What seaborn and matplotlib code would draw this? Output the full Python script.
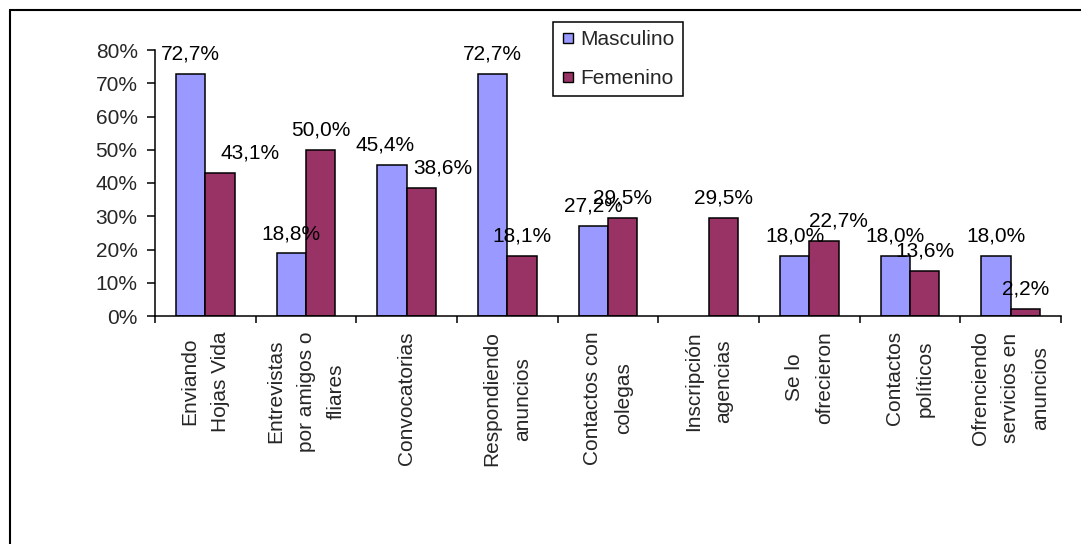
import numpy as np
import pandas as pd
import matplotlib
matplotlib.use("Agg")
import matplotlib.pyplot as plt
import seaborn as sns
from matplotlib.lines import Line2D

# ------------------------------------------------------------
# Data
# ------------------------------------------------------------
categories = [
    "Enviando\nHojas Vida",
    "Entrevistas\npor amigos o\nfliares",
    "Convocatorias",
    "Respondiendo\nanuncios",
    "Contactos con\ncolegas",
    "Inscripción\nagencias",
    "Se lo\nofrecieron",
    "Contactos\npolíticos",
    "Ofrenciendo\nservicios en\nanuncios",
]
masculino = [72.7, 18.8, 45.4, 72.7, 27.2, np.nan, 18.0, 18.0, 18.0]
femenino = [43.1, 50.0, 38.6, 18.1, 29.5, 29.5, 22.7, 13.6, 2.2]
series = ["Masculino", "Femenino"]
colors = ["#9999FF", "#993366"]
y_ticks = [0, 10, 20, 30, 40, 50, 60, 70, 80]

# label nudges (points) where the original labels sit off-centre
label_dx = {("Femenino", 0): 21.5, ("Femenino", 2): 15.5,
            ("Masculino", 2): -5, ("Femenino", 6): 10.5}

df = pd.DataFrame({
    "cat": categories * 2,
    "serie": ["Masculino"] * len(categories) + ["Femenino"] * len(categories),
    "valor": masculino + femenino,
})

# ------------------------------------------------------------
# Plot
# ------------------------------------------------------------
sns.set_theme(style="white")
plt.rcParams["font.family"] = ["Liberation Sans", "DejaVu Sans"]
fs = 15

fig = plt.figure(figsize=(10.81, 5.44), dpi=100)
ax = fig.add_axes([155 / 1081, 1 - 316 / 544, (1061 - 155) / 1081, (316 - 50) / 544])

sns.barplot(data=df.dropna(), x="cat", y="valor", hue="serie", order=categories,
            hue_order=series, palette=colors, width=0.58, saturation=1,
            edgecolor="black", linewidth=1.1, legend=False, ax=ax)

# value labels
for i, (m, f) in enumerate(zip(masculino, femenino)):
    for j, (name, v) in enumerate(zip(series, [m, f])):
        if np.isnan(v):
            continue
        x = i + (j - 0.5) * 0.29
        dx = label_dx.get((name, i), 0)
        ax.annotate(f"{v:.1f}%".replace(".", ","), (x, v), xytext=(dx, 7.5),
                    textcoords="offset points", ha="center", va="bottom",
                    fontsize=fs, color="black")

ax.set_xlim(-0.5, len(categories) - 0.5)
ax.set_ylim(0, 80)
ax.set_yticks(y_ticks)
ax.set_yticklabels([f"{t}%" for t in y_ticks], fontsize=fs)
ax.tick_params(axis="y", direction="out", length=5.5, width=1.1, pad=7, left=True, color="black")

ax.set_xticks(np.arange(len(categories) + 1) - 0.5)
ax.set_xticklabels([])
ax.set_xticks(np.arange(len(categories)), minor=True)
ax.set_xticklabels(categories, minor=True, rotation=90, fontsize=fs,
                   va="top", ha="center", multialignment="center", linespacing=1.75)
ax.tick_params(axis="x", which="major", direction="out", length=5, width=1.1, bottom=True, color="black")
ax.tick_params(axis="x", which="minor", length=0, pad=11)

ax.set_xlabel("")
ax.set_ylabel("")
for s in ["top", "right"]:
    ax.spines[s].set_visible(False)
for s in ["left", "bottom"]:
    ax.spines[s].set_color("black")
    ax.spines[s].set_linewidth(1.1)

handles = [Line2D([], [], marker="s", linestyle="none", markersize=6.5,
                  markerfacecolor=c, markeredgecolor="black", markeredgewidth=1)
           for c in colors]
leg = ax.legend(handles, series, loc="upper left", bbox_to_anchor=(553 / 1081, 1 - 22 / 544),
                bbox_transform=fig.transFigure, fontsize=fs, frameon=True, fancybox=False,
                framealpha=1, edgecolor="black", borderpad=0.4, labelspacing=0.95,
                handlelength=0.6, handletextpad=0.3, borderaxespad=0)
leg.get_frame().set_linewidth(1.1)

# outer chart border (top and left visible)
fig.add_artist(Line2D([9.5 / 1081, 9.5 / 1081], [0, 1 - 10 / 544], transform=fig.transFigure,
                      color="black", linewidth=1.5))
fig.add_artist(Line2D([9.5 / 1081, 1], [1 - 10 / 544, 1 - 10 / 544], transform=fig.transFigure,
                      color="black", linewidth=1.5))

fig.savefig("out.png", dpi=100)
